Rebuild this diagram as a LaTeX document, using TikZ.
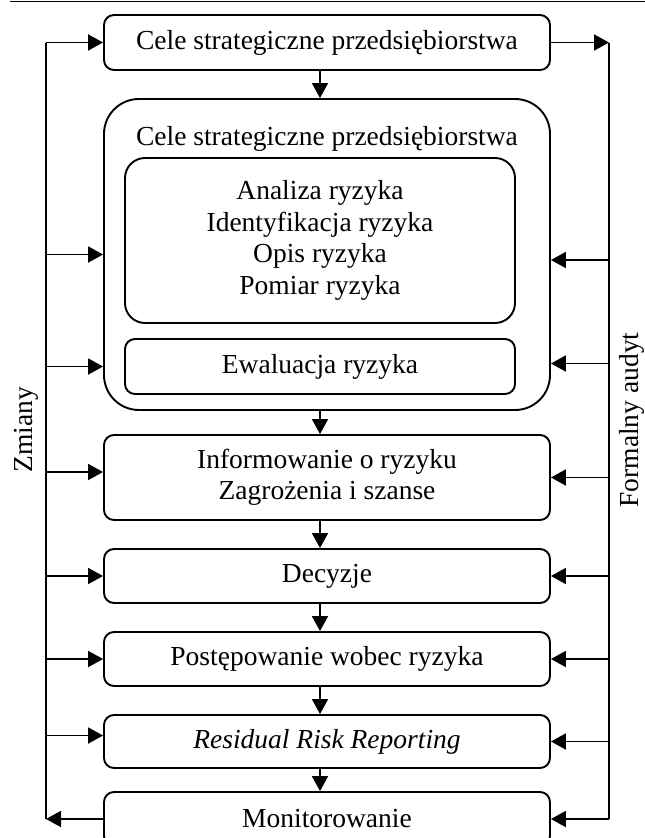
\documentclass[tikz,border=0pt]{standalone}
\usepackage{fontspec}
\setmainfont{Liberation Serif}
\usetikzlibrary{arrows.meta}
\begin{document}
\begin{tikzpicture}[x=1pt, y=-1pt,
  txt/.style={font=\fontsize{27.5}{31.5}\selectfont},
  box/.style={txt, draw, line width=1.9pt, rounded corners=10pt,
    minimum width=446pt, inner sep=0pt, align=center},
  inner/.style={box, minimum width=390pt},
  wire/.style={line width=1.9pt},
  conn/.style={wire, -{Triangle[length=15pt,width=16pt]}},
  side/.style={txt, rotate=90, anchor=base, inner sep=0pt}]
\useasboundingbox (0,0) rectangle (645,838);

% rule above the figure
\coordinate (ruleL) at (10,1.5);
\coordinate (ruleR) at (645,1.5);
\draw[wire] (ruleL) -- (ruleR);

% guide coordinates: the two feedback lines and the central flow axis
\coordinate (lline) at (46,0);
\coordinate (rline) at (609,0);
\coordinate (axis) at (320,0);

% main flow
\node[box, minimum height=55pt] (top) at (327,42.5) {Cele strategiczne przedsiębiorstwa};
\node[box, minimum height=311pt, rounded corners=35pt] (big) at (327,254.5) {};
\node[txt, anchor=base] (bigtitle) at (327,145) {Cele strategiczne przedsiębiorstwa};
\node[inner, minimum height=165pt, rounded corners=20pt] (anal) at (320,240.5)
  {Analiza ryzyka\\Identyfikacja ryzyka\\Opis ryzyka\\Pomiar ryzyka};
\node[inner, minimum height=55pt] (ewal) at (320,366.5) {Ewaluacja ryzyka};
\node[box, minimum height=85pt] (info) at (327,477.5) {Informowanie o ryzyku\\Zagrożenia i szanse};
\node[box, minimum height=54pt] (dec) at (327,576) {Decyzje};
\node[box, minimum height=54pt] (post) at (327,659) {Postępowanie wobec ryzyka};
\node[box, minimum height=53pt] (resid) at (327,741.5) {\itshape Residual Risk Reporting};
\node[box, minimum height=54pt] (mon) at (327,819) {Monitorowanie};

% downward flow arrows
\draw[conn] (top.south -| axis) -- (big.north -| axis);
\draw[conn] (big.south -| axis) -- (info.north -| axis);
\draw[conn] (info.south -| axis) -- (dec.north -| axis);
\draw[conn] (dec.south -| axis) -- (post.north -| axis);
\draw[conn] (post.south -| axis) -- (resid.north -| axis);
\draw[conn] (resid.south -| axis) -- (mon.north -| axis);

% left feedback line: Zmiany
\draw[wire] (lline |- top.west) -- (lline |- mon.west);
\draw[conn] (lline |- top.west) -- (top.west);
\draw[conn] (lline |- big.west) -- (big.west);
\draw[conn] (lline |- ewal.west) -- (big.west |- ewal.west);
\draw[conn] ([yshift=5.5pt]lline |- info.west) -- ([yshift=5.5pt]info.west);
\draw[conn] (lline |- dec.west) -- (dec.west);
\draw[conn] (lline |- post.west) -- (post.west);
\draw[conn] ([yshift=6pt]lline |- resid.west) -- ([yshift=6pt]resid.west);
\draw[conn] (mon.west) -- (lline |- mon.west);
\node[side] (zm) at (32,430) {Zmiany};

% right feedback line: Formalny audyt
\draw[wire] (rline |- top.east) -- (rline |- mon.east);
\draw[conn] (top.east) -- (rline |- top.east);
\draw[conn] ([yshift=-5.5pt]rline |- big.east) -- ([yshift=-5.5pt]big.east);
\draw[conn] ([yshift=3pt]rline |- ewal.east) -- ([yshift=3pt]big.east |- ewal.east);
\draw[conn] (rline |- info.east) -- (info.east);
\draw[conn] (rline |- dec.east) -- (dec.east);
\draw[conn] (rline |- post.east) -- (post.east);
\draw[conn] (rline |- resid.east) -- (resid.east);
\draw[conn] (rline |- mon.east) -- (mon.east);
\node[side] (fa) at (638,420) {Formalny audyt};
\end{tikzpicture}
\end{document}
